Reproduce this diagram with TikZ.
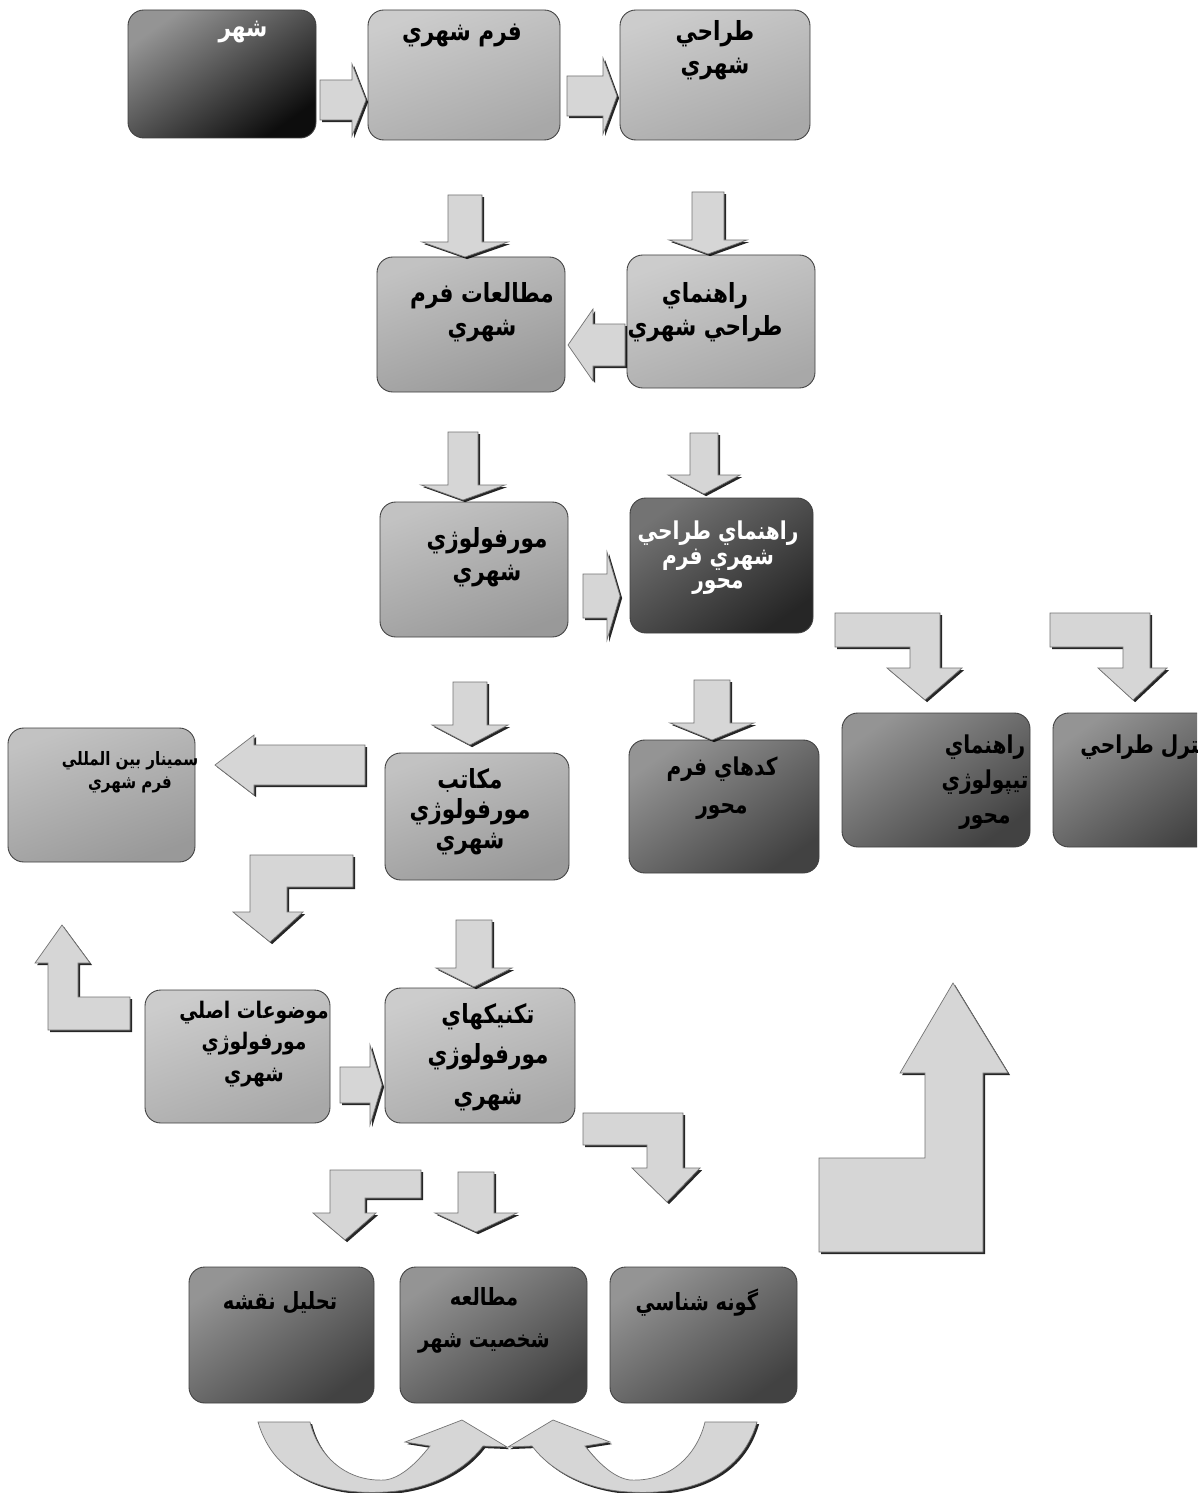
\documentclass[tikz,border=0pt]{standalone}
\usepackage{fontspec}
\usetikzlibrary{shadows}
\TeXXeTstate=1
\newfontfamily\arfont[Script=Arabic, FakeStretch=0.82]{DejaVu Sans}
\newcommand\AR[1]{\beginR #1\endR}
% box: name, x1, y1, x2, y2, style
\newcommand\bx[6]{\node[#6, minimum width={(#4-#2)*0.02cm}, minimum height={(#5-#3)*0.02cm}] (#1) at ({(#2+#4)/2},{(#3+#5)/2}) {};}
% down arrow: cx, shaft half, ytop, ybase, head half, ytip
\newcommand\darr[6]{\path[blk] ({#1-#2},#3) -- ({#1+#2},#3) -- ({#1+#2},#4) -- ({#1+#5},#4) -- (#1,#6) -- ({#1-#5},#4) -- ({#1-#2},#4) -- cycle;}
% horizontal arrow: cy, shaft half, xstart, xbase, head half, xtip
\newcommand\harr[6]{\path[blk] (#3,{#1-#2}) -- (#4,{#1-#2}) -- (#4,{#1-#5}) -- (#6,#1) -- (#4,{#1+#5}) -- (#4,{#1+#2}) -- (#3,{#1+#2}) -- cycle;}
\begin{document}
\begin{tikzpicture}[x=0.02cm,y=-0.02cm,
  box/.style={draw=black!75, line width=0.5pt, rounded corners=9pt, inner sep=0pt, outer sep=0pt},
  lbox/.style={box, top color=black!20, bottom color=black!34, shading angle=20},
  mbox/.style={box, top color=black!24, bottom color=black!40, shading angle=20},
  dbox/.style={box, top color=black!42, bottom color=black!74, shading angle=35},
  xbox/.style={box, top color=black!42, bottom color=black!95, shading angle=35},
  ybox/.style={box, top color=black!55, bottom color=black!85, shading angle=35},
  blk/.style={fill=black!16, draw=black!55, line width=0.4pt,
    drop shadow={shadow xshift=1.2pt, shadow yshift=-1.2pt, fill=black, opacity=0.85}},
  txt/.style={font=\arfont\bfseries\fontsize{15}{19}\selectfont, align=center, inner sep=0pt, text=black},
  wtxt/.style={txt, text=white}]
\useasboundingbox (0,0) rectangle (1197,1493);
\fill[white] (0,0) rectangle (1197,1493);
\clip (0,0) rectangle (1197,1493);

% ---------- boxes ----------
\bx{b1}{128}{10}{316}{138}{xbox}
\bx{b2}{368}{10}{560}{140}{lbox}
\bx{b3}{620}{10}{810}{140}{lbox}
\bx{b4}{377}{257}{565}{392}{mbox}
\bx{b5}{627}{255}{815}{388}{lbox}
\bx{b6}{380}{502}{568}{637}{mbox}
\bx{b7}{630}{498}{813}{633}{ybox}
\bx{b8}{8}{728}{195}{862}{mbox}
\bx{b9}{385}{753}{569}{880}{mbox}
\bx{b10}{629}{740}{819}{873}{dbox}
\bx{b11}{842}{713}{1030}{847}{dbox}
\bx{b12}{1053}{713}{1230}{847}{dbox}
\bx{b13}{145}{990}{330}{1123}{lbox}
\bx{b14}{385}{988}{575}{1123}{lbox}
\bx{b15}{189}{1267}{374}{1403}{dbox}
\bx{b16}{400}{1267}{587}{1403}{dbox}
\bx{b17}{610}{1267}{797}{1403}{dbox}

% ---------- texts ----------
\node[wtxt] (t1) at (243,32) {\AR{شهر}};
\node[txt] (t2) at (462,35) {\AR{فرم شهري}};
\node[txt] (t3) at (715,50) {\AR{طراحي}\\\AR{شهري}};
\node[txt] (t4) at (482,312) {\AR{مطالعات فرم}\\\AR{شهري}};
\node[txt] (t5) at (705,312) {\AR{راهنماي}\\\AR{طراحي شهري}};
\node[txt] (t6) at (487,557) {\AR{مورفولوژي}\\\AR{شهري}};
\node[wtxt, font=\arfont\bfseries\fontsize{14}{14}\selectfont] (t7) at (718,558) {\AR{راهنماي طراحي}\\\AR{شهري فرم}\\\AR{محور}};
\node[txt, font=\arfont\bfseries\fontsize{10.5}{13}\selectfont] (t8) at (130,772) {\AR{سمينار بين المللي}\\\AR{فرم شهري}};
\node[txt, font=\arfont\bfseries\fontsize{15}{17}\selectfont] (t9) at (470,812) {\AR{مكاتب}\\\AR{مورفولوژي}\\\AR{شهري}};
\node[txt, font=\arfont\bfseries\fontsize{14}{22}\selectfont] (t10) at (722,788) {\AR{كدهاي فرم}\\\AR{محور}};
\node[txt, font=\arfont\bfseries\fontsize{14}{20}\selectfont] (t11) at (985,782) {\AR{راهنماي}\\\AR{تيپولوژي}\\\AR{محور}};
\node[txt, font=\arfont\bfseries\fontsize{14}{20}\selectfont, anchor=west] (t12) at (1080,747) {\AR{كنترل طراحي}};
\node[txt, font=\arfont\bfseries\fontsize{13}{18}\selectfont] (t13) at (254,1044) {\AR{موضوعات اصلي}\\\AR{مورفولوژي}\\\AR{شهري}};
\node[txt, font=\arfont\bfseries\fontsize{15}{23}\selectfont] (t14) at (488,1057) {\AR{تكنيكهاي}\\\AR{مورفولوژي}\\\AR{شهري}};
\node[txt, font=\arfont\bfseries\fontsize{13.5}{24}\selectfont] (t15) at (280,1303) {\AR{تحليل نقشه}};
\node[txt, font=\arfont\bfseries\fontsize{13.5}{24}\selectfont] (t16) at (484,1320) {\AR{مطالعه}\\\AR{شخصيت شهر}};
\node[txt, font=\arfont\bfseries\fontsize{13.5}{24}\selectfont] (t17) at (697,1303) {\AR{گونه شناسي}};

% ---------- straight block arrows ----------
\harr{100}{20}{320}{352}{36}{366}
\harr{96}{20}{567}{603}{38}{617}
\darr{465}{17}{195}{242}{43}{257}
\darr{708}{16}{192}{240}{39}{254}
\harr{345}{21}{625}{593}{36}{568}
\darr{463}{15}{432}{485}{42}{500}
\darr{704}{14}{433}{475}{36}{494}
\harr{596}{22}{583}{607}{44}{620}
\darr{712}{18}{680}{723}{42}{740}
\darr{470}{17}{682}{725}{38}{745}
\harr{765}{20}{365}{254}{30}{215}
\darr{474}{18}{920}{968}{38}{987}
\harr{1085}{18}{340}{370}{40}{382}
\darr{476}{18}{1172}{1213}{41}{1232}

% ---------- bent arrows ----------
\path[blk] (835,613) -- (940,613) -- (940,668) -- (962,668) -- (925,700) -- (887,668) -- (910,668) -- (910,647) -- (835,647) -- cycle;
\path[blk] (1050,613) -- (1150,613) -- (1150,668) -- (1167,668) -- (1133,700) -- (1098,668) -- (1123,668) -- (1123,647) -- (1050,647) -- cycle;
\path[blk] (250,855) -- (353,855) -- (353,887) -- (287,887) -- (287,912) -- (303,912) -- (270,942) -- (233,912) -- (250,912) -- cycle;
\path[blk] (583,1113) -- (683,1113) -- (683,1168) -- (700,1168) -- (667,1202) -- (632,1168) -- (647,1168) -- (647,1145) -- (583,1145) -- cycle;
\path[blk] (330,1170) -- (421,1170) -- (421,1198) -- (365,1198) -- (365,1213) -- (376,1213) -- (345,1240) -- (313,1213) -- (330,1213) -- cycle;
\path[blk] (48,1030) -- (48,963) -- (35,963) -- (62,925) -- (90,963) -- (78,963) -- (78,997) -- (130,997) -- (130,1030) -- cycle;
\path[blk] (819,1158) -- (925,1158) -- (925,1073) -- (900,1073) -- (953,983) -- (1008,1073) -- (983,1073) -- (983,1252) -- (819,1252) -- cycle;

% ---------- curved arrows ----------
\path[blk] (258,1422) .. controls (275,1480) and (330,1495) .. (385,1492)
  .. controls (430,1490) and (465,1470) .. (483,1446) -- (507,1447) -- (462,1420) -- (405,1442) -- (430,1446)
  .. controls (415,1465) and (400,1478) .. (385,1480)
  .. controls (345,1482) and (318,1455) .. (310,1422) -- cycle;
\path[blk] (757,1422) .. controls (740,1480) and (685,1495) .. (630,1492)
  .. controls (585,1490) and (550,1470) .. (532,1446) -- (508,1447) -- (553,1420) -- (610,1442) -- (585,1446)
  .. controls (600,1465) and (615,1478) .. (630,1480)
  .. controls (670,1482) and (697,1455) .. (705,1422) -- cycle;
\end{tikzpicture}
\end{document}
